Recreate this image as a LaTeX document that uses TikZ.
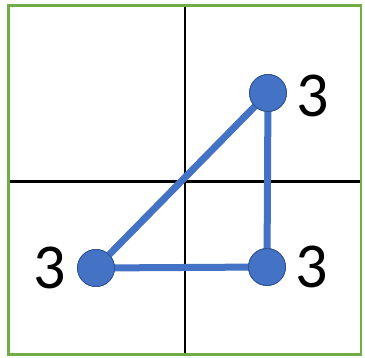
\documentclass[tikz,border=0pt]{standalone}
\usepackage{fontspec}
\setmainfont{Carlito}
\definecolor{frame}{HTML}{70AD47}
\definecolor{vfill}{HTML}{4472C4}
\definecolor{vline}{HTML}{2F528F}
\tikzset{
  vert/.style={circle, fill=vfill, draw=vline, line width=0.8pt, minimum size=37pt, inner sep=0pt},
  edge/.style={draw=vfill, line width=7pt},
  axis/.style={draw=black, line width=2.2pt},
  lab/.style={font=\fontsize{64}{68}\selectfont, inner sep=0pt, text=black}
}
\begin{document}
\begin{tikzpicture}[x=1pt,y=-1pt]
\useasboundingbox (0,0) rectangle (365,357);
\coordinate (ft) at (185,5.5);
\coordinate (fb) at (185,354.5);
\coordinate (fl) at (8.5,181.5);
\coordinate (fr) at (361,181.5);
\draw[axis] (ft) -- (fb);
\draw[axis] (fl) -- (fr);
\draw[frame, line width=2.4pt] (8.5,5.5) rectangle (361,354.5);
\node[vert] (a) at (96,268) {};
\node[vert] (b) at (268,93) {};
\node[vert] (c) at (267,267) {};
\draw[edge] (a.center) -- (b.center);
\draw[edge] (b.center) -- (c.center);
\draw[edge] (a.center) -- (c.center);
\node[vert] at (a) {};
\node[vert] at (b) {};
\node[vert] at (c) {};
\node[lab] (la) at (50,268) {3};
\node[lab] (lb) at (313,96) {3};
\node[lab] (lc) at (312,267) {3};
\end{tikzpicture}
\end{document}
